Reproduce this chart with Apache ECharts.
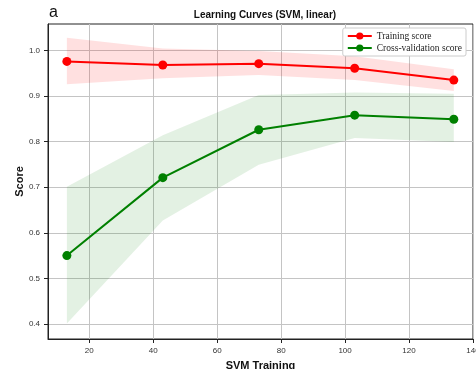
<!DOCTYPE html>
<html>
<head>
<meta charset="utf-8">
<script src="https://cdn.jsdelivr.net/npm/echarts@6/dist/echarts.min.js"></script>
<style>
  html, body { margin: 0; padding: 0; background: #fff; }
  #cn { width: 476px; height: 369px; }
</style>
</head>
<body>
<div id="cn"></div>
<script>
'use strict';

// data
const arrSize = [13, 43, 73, 103, 134];
const arrTrain = [0.976, 0.968, 0.971, 0.961, 0.935];
const arrTrainHi = [1.028, 1.004, 0.999, 0.987, 0.959];
const arrTrainLo = [0.926, 0.939, 0.946, 0.935, 0.911];
const arrCv = [0.550, 0.721, 0.826, 0.858, 0.849];
const arrCvHi = [0.701, 0.814, 0.902, 0.908, 0.905];
const arrCvLo = [0.401, 0.627, 0.749, 0.808, 0.799];
const arrXTicks = [20, 40, 60, 80, 100, 120, 140];
const arrYTicks = [0.4, 0.5, 0.6, 0.7, 0.8, 0.9, 1.0];

const FONT = '"Liberation Sans", Arial, sans-serif';

const pts = arr => arrSize.map((x, i) => [x, arr[i]]);

// fill between lo and hi, drawn once as one polygon through the axes
function band(name, lo, hi, color) {
    const data = arrSize.map((x, i) => [x, lo[i], hi[i]]);
    return {
        name: name,
        type: 'custom',
        silent: true,
        z: 1,
        data: data,
        encode: { x: 0, y: [1, 2] },
        renderItem: (params, api) => {
            if (params.dataIndex !== 0) return;
            const top = data.map(d => api.coord([d[0], d[2]]));
            const bot = data.map(d => api.coord([d[0], d[1]])).reverse();
            return {
                type: 'polygon',
                shape: { points: top.concat(bot) },
                style: { fill: color }
            };
        }
    };
}

function curve(name, arr, color) {
    return {
        name: name,
        type: 'line',
        data: pts(arr),
        symbol: 'circle',
        symbolSize: 9,
        itemStyle: { color: color },
        lineStyle: { color: color, width: 2 },
        z: 3
    };
}

const chart = echarts.init(document.getElementById('cn'), null, { renderer: 'canvas' });

const option = {
    backgroundColor: '#fff',
    animation: false,
    title: {
        text: 'Learning Curves (SVM, linear)',
        left: 260,
        textAlign: 'center',
        top: 5,
        textStyle: { fontFamily: FONT, fontSize: 10, fontWeight: 'bold', color: '#111' }
    },
    graphic: [{
        type: 'text',
        left: 49,
        top: 5,
        style: { text: 'a', fontFamily: FONT, fontSize: 16, fill: '#111' }
    }],
    legend: {
        data: ['Training score', 'Cross-validation score'],
        orient: 'vertical',
        right: 10,
        top: 28,
        itemWidth: 24,
        itemHeight: 9,
        itemGap: 2,
        padding: [3, 4, 3, 4],
        backgroundColor: '#fff',
        borderColor: '#ccc',
        borderWidth: 1,
        borderRadius: 2,
        textStyle: { fontFamily: '"Liberation Serif", serif', fontSize: 9.5, color: '#222' }
    },
    grid: {
        left: 48, top: 24, right: 3, bottom: 30,
        outerBoundsMode: 'none',
        show: true, borderColor: '#222', borderWidth: 1
    },
    xAxis: {
        type: 'value',
        min: 7.1,
        max: 140,
        name: 'SVM Training',
        nameLocation: 'middle',
        nameGap: 21,
        nameMoveOverlap: false,
        nameTextStyle: { fontFamily: FONT, fontSize: 11, fontWeight: 'bold', color: '#111' },
        axisLine: { show: true, onZero: false, lineStyle: { color: '#222', width: 1 } },
        axisTick: { show: true, length: 4, customValues: arrXTicks, lineStyle: { color: '#222' } },
        axisLabel: { customValues: arrXTicks, fontFamily: FONT, fontSize: 8, color: '#333', margin: 8 },
        splitLine: { show: true, lineStyle: { color: '#c4c4c4', width: 1 } }
    },
    yAxis: {
        type: 'value',
        min: 0.367,
        max: 1.058,
        name: 'Score',
        nameLocation: 'middle',
        nameGap: 23,
        nameMoveOverlap: false,
        nameTextStyle: { fontFamily: FONT, fontSize: 11, fontWeight: 'bold', color: '#111' },
        axisLine: { show: true, lineStyle: { color: '#222', width: 1 } },
        axisTick: { show: true, length: 4, customValues: arrYTicks, lineStyle: { color: '#222' } },
        axisLabel: {
            customValues: arrYTicks,
            formatter: v => v.toFixed(1),
            fontFamily: FONT, fontSize: 8, color: '#333', margin: 8
        },
        splitLine: { show: true, lineStyle: { color: '#c4c4c4', width: 1 } }
    },
    series: [
        band('train_band', arrTrainLo, arrTrainHi, 'rgba(255,0,0,0.12)'),
        band('cv_band', arrCvLo, arrCvHi, 'rgba(0,128,0,0.11)'),
        curve('Training score', arrTrain, '#ff0000'),
        curve('Cross-validation score', arrCv, '#008000')
    ]
};

chart.setOption(option);
</script>
</body>
</html>
